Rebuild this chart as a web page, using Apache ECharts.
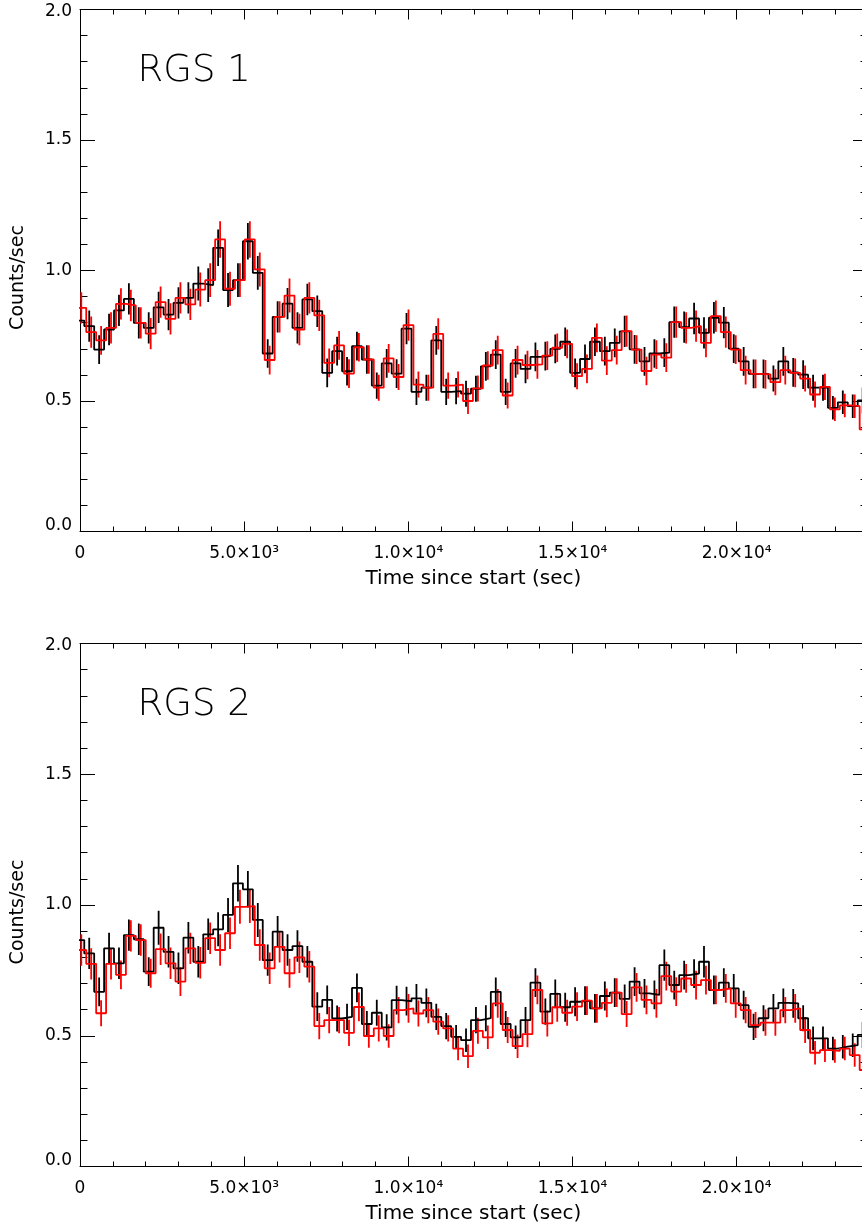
<!DOCTYPE html>
<html>
<head>
<meta charset="utf-8">
<script src="https://cdn.jsdelivr.net/npm/echarts@6/dist/echarts.min.js"></script>
<style>
html,body{margin:0;padding:0;background:#fff;}
#chart{width:862px;height:1226px;}
</style>
</head>
<body>
<div id="chart"></div>
<script>
// ---- data (counts/sec per time bin) ----
const binSize = 302;          // seconds per bin
const blackStart = -172;      // left edge of first black bin (s)
const redStart = -112;        // left edge of first red bin (s)

const rgs1Black = [0.808,0.787,0.697,0.774,0.847,0.891,0.799,0.780,0.859,0.831,
 0.876,0.895,0.950,0.944,1.087,0.925,0.963,1.112,0.991,0.682,
 0.822,0.873,0.780,0.889,0.844,0.608,0.691,0.614,0.710,0.659,
 0.559,0.644,0.605,0.777,0.535,0.551,0.732,0.535,0.538,0.528,
 0.547,0.633,0.678,0.535,0.644,0.623,0.669,0.672,0.700,0.727,
 0.608,0.661,0.727,0.691,0.723,0.767,0.698,0.652,0.682,0.685,
 0.802,0.783,0.816,0.761,0.819,0.800,0.701,0.652,0.604,0.604,
 0.586,0.652,0.610,0.601,0.551,0.551,0.474,0.495,0.480,0.502];
const rgs1BlackErr = [0.06,0.06,0.055,0.06,0.06,0.06,0.06,0.06,0.06,0.06,
 0.06,0.06,0.065,0.065,0.07,0.065,0.065,0.07,0.065,0.055,
 0.06,0.06,0.06,0.06,0.06,0.055,0.055,0.055,0.055,0.055,
 0.05,0.055,0.055,0.06,0.05,0.05,0.055,0.05,0.05,0.05,
 0.05,0.055,0.055,0.05,0.055,0.055,0.055,0.055,0.055,0.055,
 0.055,0.055,0.055,0.055,0.055,0.06,0.055,0.055,0.055,0.055,
 0.06,0.06,0.06,0.06,0.06,0.06,0.055,0.055,0.055,0.055,
 0.05,0.055,0.055,0.055,0.05,0.05,0.045,0.045,0.045,0.05];
const rgs1Red = [0.857,0.764,0.732,0.780,0.872,0.866,0.799,0.758,0.879,0.815,
 0.895,0.870,0.927,0.963,1.119,0.930,0.963,1.119,1.004,0.657,
 0.822,0.904,0.774,0.895,0.828,0.646,0.713,0.605,0.706,0.659,
 0.551,0.663,0.592,0.791,0.563,0.551,0.757,0.559,0.563,0.500,
 0.548,0.636,0.695,0.521,0.657,0.638,0.640,0.674,0.704,0.719,
 0.595,0.623,0.742,0.655,0.695,0.768,0.697,0.615,0.678,0.666,
 0.802,0.780,0.787,0.723,0.825,0.764,0.697,0.618,0.604,0.602,
 0.572,0.618,0.608,0.586,0.525,0.554,0.468,0.483,0.480,0.391];
const rgs1RedErr = [0.06,0.06,0.055,0.06,0.06,0.06,0.06,0.06,0.06,0.06,
 0.06,0.06,0.065,0.065,0.07,0.065,0.065,0.07,0.065,0.055,
 0.06,0.065,0.06,0.06,0.06,0.055,0.055,0.055,0.055,0.055,
 0.05,0.055,0.05,0.06,0.05,0.05,0.06,0.05,0.05,0.05,
 0.05,0.055,0.055,0.05,0.055,0.055,0.055,0.055,0.055,0.055,
 0.05,0.055,0.055,0.055,0.055,0.06,0.055,0.055,0.055,0.055,
 0.06,0.06,0.06,0.055,0.06,0.06,0.055,0.055,0.055,0.055,
 0.05,0.055,0.055,0.05,0.05,0.05,0.045,0.045,0.045,0.045];

const rgs2Black = [0.866,0.815,0.668,0.834,0.777,0.885,0.869,0.745,0.913,0.821,
 0.758,0.875,0.783,0.888,0.907,0.962,1.083,1.060,0.943,0.789,
 0.898,0.828,0.843,0.783,0.611,0.637,0.566,0.572,0.683,0.545,
 0.588,0.532,0.636,0.632,0.643,0.626,0.572,0.537,0.496,0.483,
 0.560,0.567,0.668,0.545,0.494,0.560,0.703,0.592,0.660,0.609,
 0.630,0.634,0.605,0.652,0.665,0.641,0.707,0.662,0.656,0.770,
 0.694,0.732,0.738,0.783,0.675,0.703,0.681,0.617,0.534,0.567,
 0.605,0.626,0.624,0.567,0.490,0.490,0.451,0.458,0.464,0.503];
const rgs2BlackErr = [0.06,0.06,0.055,0.06,0.06,0.06,0.06,0.055,0.065,0.06,
 0.06,0.06,0.06,0.06,0.065,0.065,0.07,0.07,0.065,0.06,
 0.06,0.06,0.06,0.06,0.055,0.055,0.05,0.05,0.055,0.05,
 0.05,0.05,0.055,0.055,0.055,0.055,0.05,0.05,0.045,0.045,
 0.05,0.05,0.055,0.05,0.045,0.05,0.055,0.05,0.055,0.055,
 0.055,0.055,0.055,0.055,0.055,0.055,0.055,0.055,0.055,0.06,
 0.055,0.055,0.055,0.06,0.055,0.055,0.055,0.055,0.05,0.05,
 0.055,0.055,0.055,0.05,0.045,0.045,0.045,0.045,0.045,0.05];
const rgs2Red = [0.828,0.775,0.586,0.775,0.733,0.882,0.866,0.739,0.831,0.777,
 0.707,0.834,0.779,0.873,0.828,0.892,0.993,0.996,0.847,0.758,
 0.840,0.739,0.800,0.764,0.537,0.560,0.560,0.511,0.610,0.499,
 0.528,0.499,0.598,0.605,0.585,0.598,0.554,0.528,0.451,0.422,
 0.519,0.494,0.624,0.522,0.460,0.506,0.675,0.547,0.609,0.588,
 0.611,0.634,0.605,0.626,0.665,0.583,0.685,0.637,0.624,0.728,
 0.669,0.719,0.694,0.713,0.675,0.681,0.624,0.598,0.541,0.550,
 0.550,0.598,0.605,0.522,0.435,0.445,0.442,0.451,0.426,0.369];
const rgs2RedErr = [0.06,0.06,0.05,0.06,0.055,0.06,0.06,0.055,0.06,0.06,
 0.055,0.06,0.06,0.06,0.06,0.06,0.065,0.065,0.06,0.06,
 0.06,0.055,0.06,0.06,0.05,0.05,0.05,0.05,0.055,0.045,
 0.05,0.045,0.05,0.055,0.05,0.05,0.05,0.05,0.045,0.045,
 0.05,0.045,0.055,0.05,0.045,0.05,0.055,0.05,0.055,0.05,
 0.055,0.055,0.055,0.055,0.055,0.05,0.055,0.055,0.055,0.055,
 0.055,0.055,0.055,0.055,0.055,0.055,0.055,0.05,0.05,0.05,
 0.05,0.05,0.055,0.05,0.045,0.045,0.045,0.045,0.045,0.04];

const panelTitles = ['RGS 1', 'RGS 2'];
const xTickValues = [0, 5000, 10000, 15000, 20000];
const xTickLabels = ['0', '5.0×10³', '1.0×10⁴', '1.5×10⁴', '2.0×10⁴'];
const yTickValues = [0, 0.5, 1.0, 1.5, 2.0];
const yTickLabels = ['0.0', '0.5', '1.0', '1.5', '2.0'];
const xName = 'Time since start (sec)';
const yName = 'Counts/sec';

// ---- helpers ----
function stepData(start, vals) {
  const d = vals.map((v, k) => [start + k * binSize, v]);
  d.push([start + vals.length * binSize, vals[vals.length - 1]]);
  return d;
}
function errData(start, vals, errs) {
  return vals.map((v, k) => [start + (k + 0.5) * binSize, v - errs[k], v + errs[k]]);
}

const FONT = 'DejaVu Sans';
const XMAX_VIEW = 24000;
const pxPerSec = 788 / 24000;
const gridWidth = 25000 * pxPerSec;
const rightAxisOffset = -(gridWidth - 788);
const grids = [
  { left: 80, top: 9.5, width: gridWidth, height: 522, outerBoundsMode: 'none', containLabel: false },
  { left: 80, top: 643.5, width: gridWidth, height: 523, outerBoundsMode: 'none', containLabel: false }
];

const xAxes = [], yAxes = [], series = [], graphics = [];
grids.forEach((g, gi) => {
  const base = {
    gridIndex: gi, type: 'value', min: 0, max: 25000, interval: 5000,
    axisLine: { show: true, onZero: false, lineStyle: { color: '#000', width: 1 } },
    axisTick: { show: true, inside: true, length: 10, lineStyle: { color: '#000', width: 1 } },
    minorTick: { show: true, splitNumber: 5, length: 5, lineStyle: { color: '#000', width: 1 } },
    splitLine: { show: false }, minorSplitLine: { show: false }
  };
  xAxes.push(Object.assign({}, base, {
    position: 'bottom',
    name: xName, nameLocation: 'middle', nameGap: 37,
    nameTextStyle: { fontFamily: FONT, fontSize: 20, color: '#000', padding: [0, 34, 0, 0] },
    axisLabel: {
      show: true, margin: 14, fontFamily: FONT, fontSize: 17, color: '#000',
      showMaxLabel: false,
      formatter: (v) => { const i = xTickValues.indexOf(v); return i >= 0 ? xTickLabels[i] : ''; }
    }
  }));
  xAxes.push(Object.assign({}, base, { position: 'top', axisLabel: { show: false } }));
  const ybase = {
    gridIndex: gi, type: 'value', min: 0, max: 2.0, interval: 0.5,
    axisLine: { show: true, onZero: false, lineStyle: { color: '#000', width: 1 } },
    axisTick: { show: true, inside: true, length: 15, lineStyle: { color: '#000', width: 1 } },
    minorTick: { show: true, splitNumber: 5, length: 7.5, lineStyle: { color: '#000', width: 1 } },
    splitLine: { show: false }, minorSplitLine: { show: false }
  };
  yAxes.push(Object.assign({}, ybase, {
    position: 'left',
    name: yName, nameLocation: 'middle', nameGap: 52, nameRotate: 90,
    nameTextStyle: { fontFamily: FONT, fontSize: 19, color: '#000', padding: [0, 14, 0, 0] },
    axisLabel: {
      show: true, margin: 8, fontFamily: FONT, fontSize: 17, color: '#000',
      formatter: (v) => {
        const i = yTickValues.findIndex(t => Math.abs(t - v) < 1e-9);
        if (i < 0) return '';
        if (i === 0) return '{lo|' + yTickLabels[i] + '}';
        if (i === yTickValues.length - 1) return '{hi|' + yTickLabels[i] + '}';
        return yTickLabels[i];
      },
      rich: {
        lo: { fontFamily: FONT, fontSize: 17, color: '#000', padding: [0, 0, 11, 0] },
        hi: { fontFamily: FONT, fontSize: 17, color: '#000', padding: [5, 0, 0, 0] }
      }
    }
  }));
  yAxes.push(Object.assign({}, ybase, { position: 'right', offset: rightAxisOffset, axisLabel: { show: false } }));
});

const panels = [
  { black: rgs1Black, blackErr: rgs1BlackErr, red: rgs1Red, redErr: rgs1RedErr },
  { black: rgs2Black, blackErr: rgs2BlackErr, red: rgs2Red, redErr: rgs2RedErr }
];

function errSeries(gi, data, color) {
  return {
    type: 'custom', xAxisIndex: gi * 2, yAxisIndex: gi * 2, clip: true,
    encode: { x: 0, y: [1, 2] },
    data: data,
    silent: true,
    renderItem: function (params, api) {
      const c = api.value(0);
      if (c < 0 || c > XMAX_VIEW + 400) return null;
      const p1 = api.coord([c, api.value(1)]);
      const p2 = api.coord([c, api.value(2)]);
      return { type: 'line', shape: { x1: p1[0], y1: p1[1], x2: p2[0], y2: p2[1] },
               style: { stroke: color, lineWidth: 1.8 } };
    }
  };
}

panels.forEach((p, gi) => {
  series.push({
    type: 'line', xAxisIndex: gi * 2, yAxisIndex: gi * 2, step: 'end', symbol: 'none',
    data: stepData(blackStart, p.black), clip: true, silent: true, animation: false,
    lineStyle: { color: '#000', width: 1.8 }
  });
  series.push(errSeries(gi, errData(blackStart, p.black, p.blackErr), '#000'));
  series.push({
    type: 'line', xAxisIndex: gi * 2, yAxisIndex: gi * 2, step: 'end', symbol: 'none',
    data: stepData(redStart, p.red), clip: true, silent: true, animation: false,
    lineStyle: { color: '#ff0000', width: 1.8 }
  });
  series.push(errSeries(gi, errData(redStart, p.red, p.redErr), '#ff0000'));
  graphics.push({
    type: 'text', x: 137.5, y: grids[gi].top + 62,
    style: { text: panelTitles[gi], fontFamily: FONT, fontSize: 37, fontWeight: 200,
             fill: '#000', verticalAlign: 'middle', align: 'left' }
  });
});

const chart = echarts.init(document.getElementById('chart'), null, { renderer: 'canvas' });
chart.setOption({
  animation: false,
  backgroundColor: '#fff',
  grid: grids,
  xAxis: xAxes,
  yAxis: yAxes,
  series: series,
  graphic: graphics
});
</script>
</body>
</html>
